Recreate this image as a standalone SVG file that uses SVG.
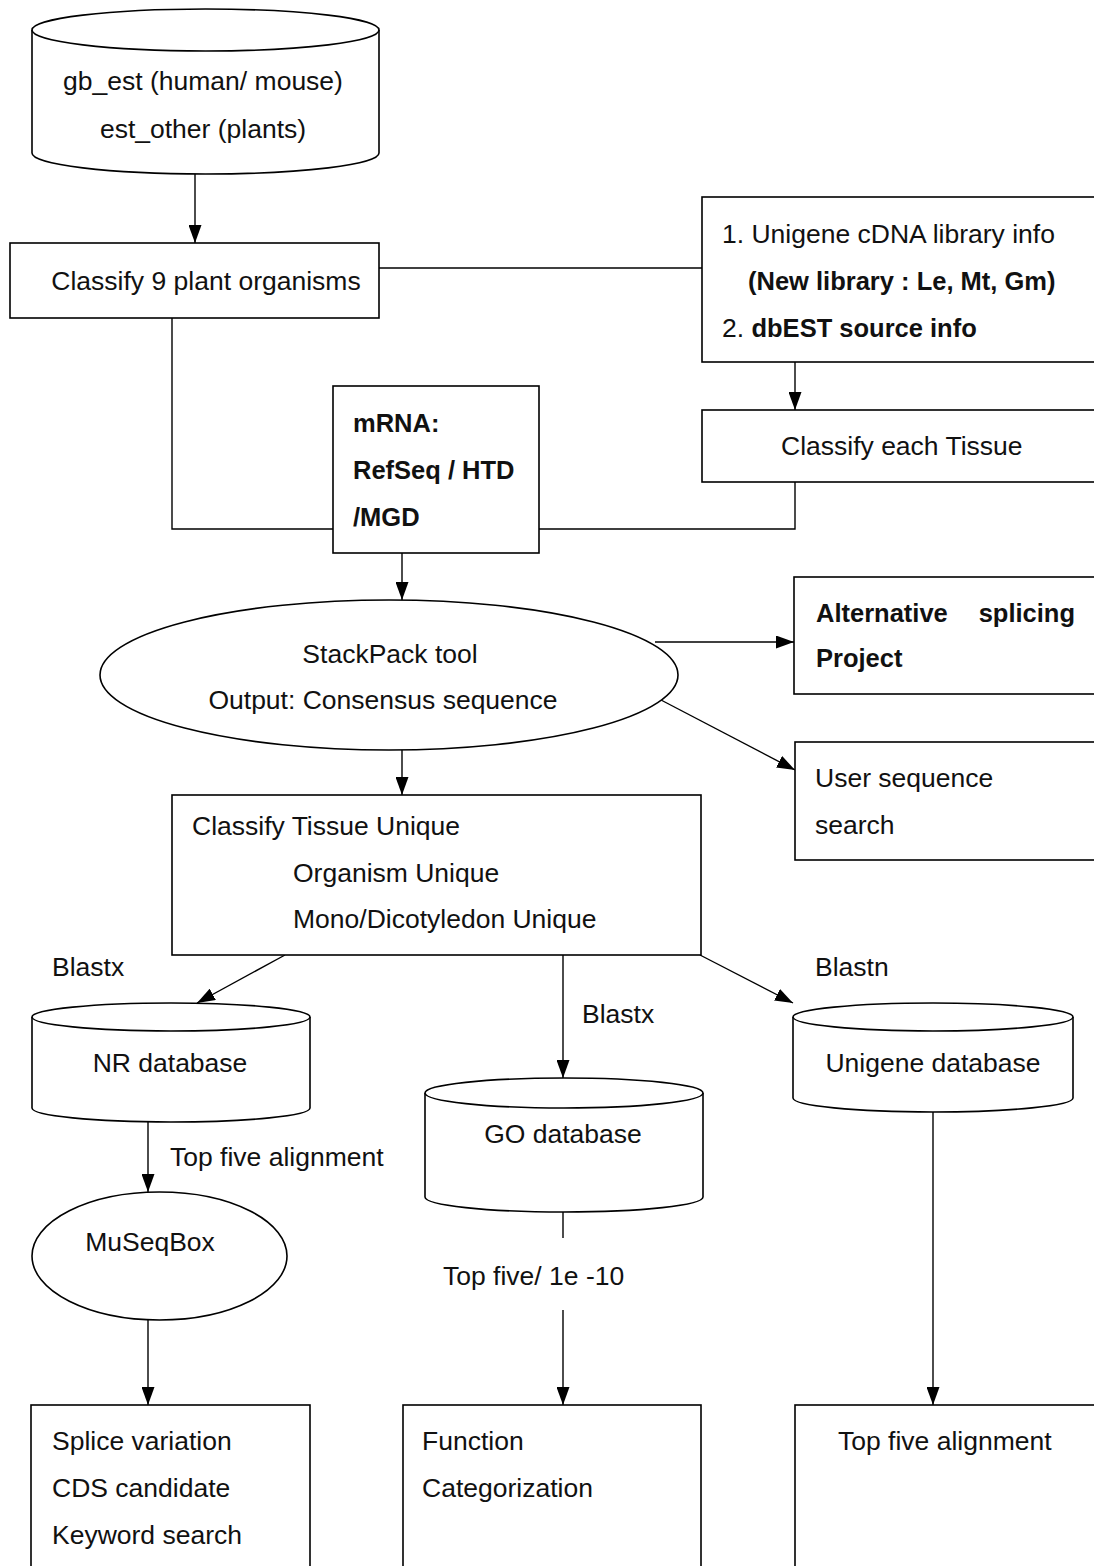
<svg xmlns="http://www.w3.org/2000/svg" width="1094" height="1566" viewBox="0 0 1094 1566">
  <defs>
    <marker id="arrow" markerUnits="userSpaceOnUse" markerWidth="19" markerHeight="13" refX="18" refY="6.5" orient="auto">
      <path d="M0,0 L18,6.5 L0,13 Z" fill="#000"/>
    </marker>
  </defs>
  <style>
    .shape { fill: #fff; stroke: #000; stroke-width: 1.6; }
    .edge { fill: none; stroke: #000; stroke-width: 1.4; }
    .arr { marker-end: url(#arrow); }
    text { font-family: "Liberation Sans", Arial, sans-serif; font-size: 26.5px; fill: #111; }
    .b { font-weight: bold; font-size: 25.5px; }
    .c { text-anchor: middle; }
  </style>
  <rect width="1094" height="1566" fill="#fff"/>

  <!-- connectors -->
  <g id="connectors">
    <path class="edge arr" d="M195,174 L195,243"/>
    <path class="edge" d="M379,268 L702,268"/>
    <path class="edge" d="M172,318 L172,529 L333,529"/>
    <path class="edge arr" d="M795,362 L795,410"/>
    <path class="edge" d="M795,482 L795,529 L539,529"/>
    <path class="edge arr" d="M402,553 L402,600"/>
    <path class="edge arr" d="M655,642 L794,642"/>
    <path class="edge arr" d="M661,700 L795,770"/>
    <path class="edge arr" d="M402,750 L402,795"/>
    <path class="edge arr" d="M285,955 L197,1003"/>
    <path class="edge arr" d="M563,955 L563,1078"/>
    <path class="edge arr" d="M700,955 L793,1003"/>
    <path class="edge arr" d="M148,1122 L148,1192"/>
    <path class="edge" d="M563,1212 L563,1238"/>
    <path class="edge arr" d="M563,1310 L563,1405"/>
    <path class="edge arr" d="M148,1320 L148,1405"/>
    <path class="edge arr" d="M933,1112 L933,1405"/>
  </g>

  <!-- source databases -->
  <g id="est-db">
    <path class="shape" d="M32,30 L32,153 A173.5,21 0 0 0 379,153 L379,30"/>
    <ellipse class="shape" cx="205.5" cy="30" rx="173.5" ry="21"/>
    <text class="c" x="203" y="90">gb_est (human/ mouse)</text>
    <text class="c" x="203" y="138">est_other (plants)</text>
  </g>

  <g id="classify-organisms">
    <rect class="shape" x="10" y="243" width="369" height="75"/>
    <text class="c" x="206" y="290">Classify 9 plant organisms</text>
  </g>

  <g id="library-info">
    <rect class="shape" x="702" y="197" width="400" height="165"/>
    <text x="722" y="243">1. Unigene cDNA library info</text>
    <text class="b" x="748" y="290">(New library : Le, Mt, Gm)</text>
    <text x="722" y="337">2. <tspan class="b">dbEST source info</tspan></text>
  </g>

  <g id="classify-tissue">
    <rect class="shape" x="702" y="410" width="400" height="72"/>
    <text x="781" y="455">Classify each Tissue</text>
  </g>

  <g id="mrna">
    <rect class="shape" x="333" y="386" width="206" height="167"/>
    <text class="b" x="353" y="432">mRNA:</text>
    <text class="b" x="353" y="479">RefSeq / HTD</text>
    <text class="b" x="353" y="526">/MGD</text>
  </g>

  <g id="stackpack">
    <ellipse class="shape" cx="389" cy="675" rx="289" ry="75"/>
    <text class="c" x="390" y="663">StackPack tool</text>
    <text class="c" x="383" y="709">Output: Consensus sequence</text>
  </g>

  <g id="alt-splicing">
    <rect class="shape" x="794" y="577" width="310" height="117"/>
    <text class="b" x="816" y="622">Alternative</text>
    <text class="b" x="1075" y="622" text-anchor="end">splicing</text>
    <text class="b" x="816" y="667">Project</text>
  </g>

  <g id="user-search">
    <rect class="shape" x="795" y="742" width="310" height="118"/>
    <text x="815" y="787">User sequence</text>
    <text x="815" y="834">search</text>
  </g>

  <g id="unique">
    <rect class="shape" x="172" y="795" width="529" height="160"/>
    <text x="192" y="835">Classify Tissue Unique</text>
    <text x="293" y="882">Organism Unique</text>
    <text x="293" y="928">Mono/Dicotyledon Unique</text>
  </g>

  <!-- edge labels -->
  <g id="labels">
    <text x="52" y="976">Blastx</text>
    <text x="582" y="1023">Blastx</text>
    <text x="815" y="976">Blastn</text>
    <text x="170" y="1166">Top five alignment</text>
    <text x="443" y="1285">Top five/ 1e -10</text>
  </g>

  <g id="nr-db">
    <path class="shape" d="M32,1017 L32,1108 A139,14 0 0 0 310,1108 L310,1017"/>
    <ellipse class="shape" cx="171" cy="1017" rx="139" ry="14"/>
    <text class="c" x="170" y="1072">NR database</text>
  </g>

  <g id="go-db">
    <path class="shape" d="M425,1093 L425,1197 A139,15 0 0 0 703,1197 L703,1093"/>
    <ellipse class="shape" cx="564" cy="1093" rx="139" ry="15"/>
    <text class="c" x="563" y="1143">GO database</text>
  </g>

  <g id="unigene-db">
    <path class="shape" d="M793,1017 L793,1098 A140,14 0 0 0 1073,1098 L1073,1017"/>
    <ellipse class="shape" cx="933" cy="1017" rx="140" ry="14"/>
    <text class="c" x="933" y="1072">Unigene database</text>
  </g>

  <g id="museqbox">
    <ellipse class="shape" cx="159.5" cy="1256" rx="127.5" ry="64"/>
    <text class="c" x="150" y="1251">MuSeqBox</text>
  </g>

  <!-- result boxes -->
  <g id="splice-results">
    <rect class="shape" x="31" y="1405" width="279" height="180"/>
    <text x="52" y="1450">Splice variation</text>
    <text x="52" y="1497">CDS candidate</text>
    <text x="52" y="1544">Keyword search</text>
  </g>

  <g id="function-results">
    <rect class="shape" x="403" y="1405" width="298" height="180"/>
    <text x="422" y="1450">Function</text>
    <text x="422" y="1497">Categorization</text>
  </g>

  <g id="alignment-results">
    <rect class="shape" x="795" y="1405" width="310" height="180"/>
    <text x="838" y="1450">Top five alignment</text>
  </g>
</svg>
